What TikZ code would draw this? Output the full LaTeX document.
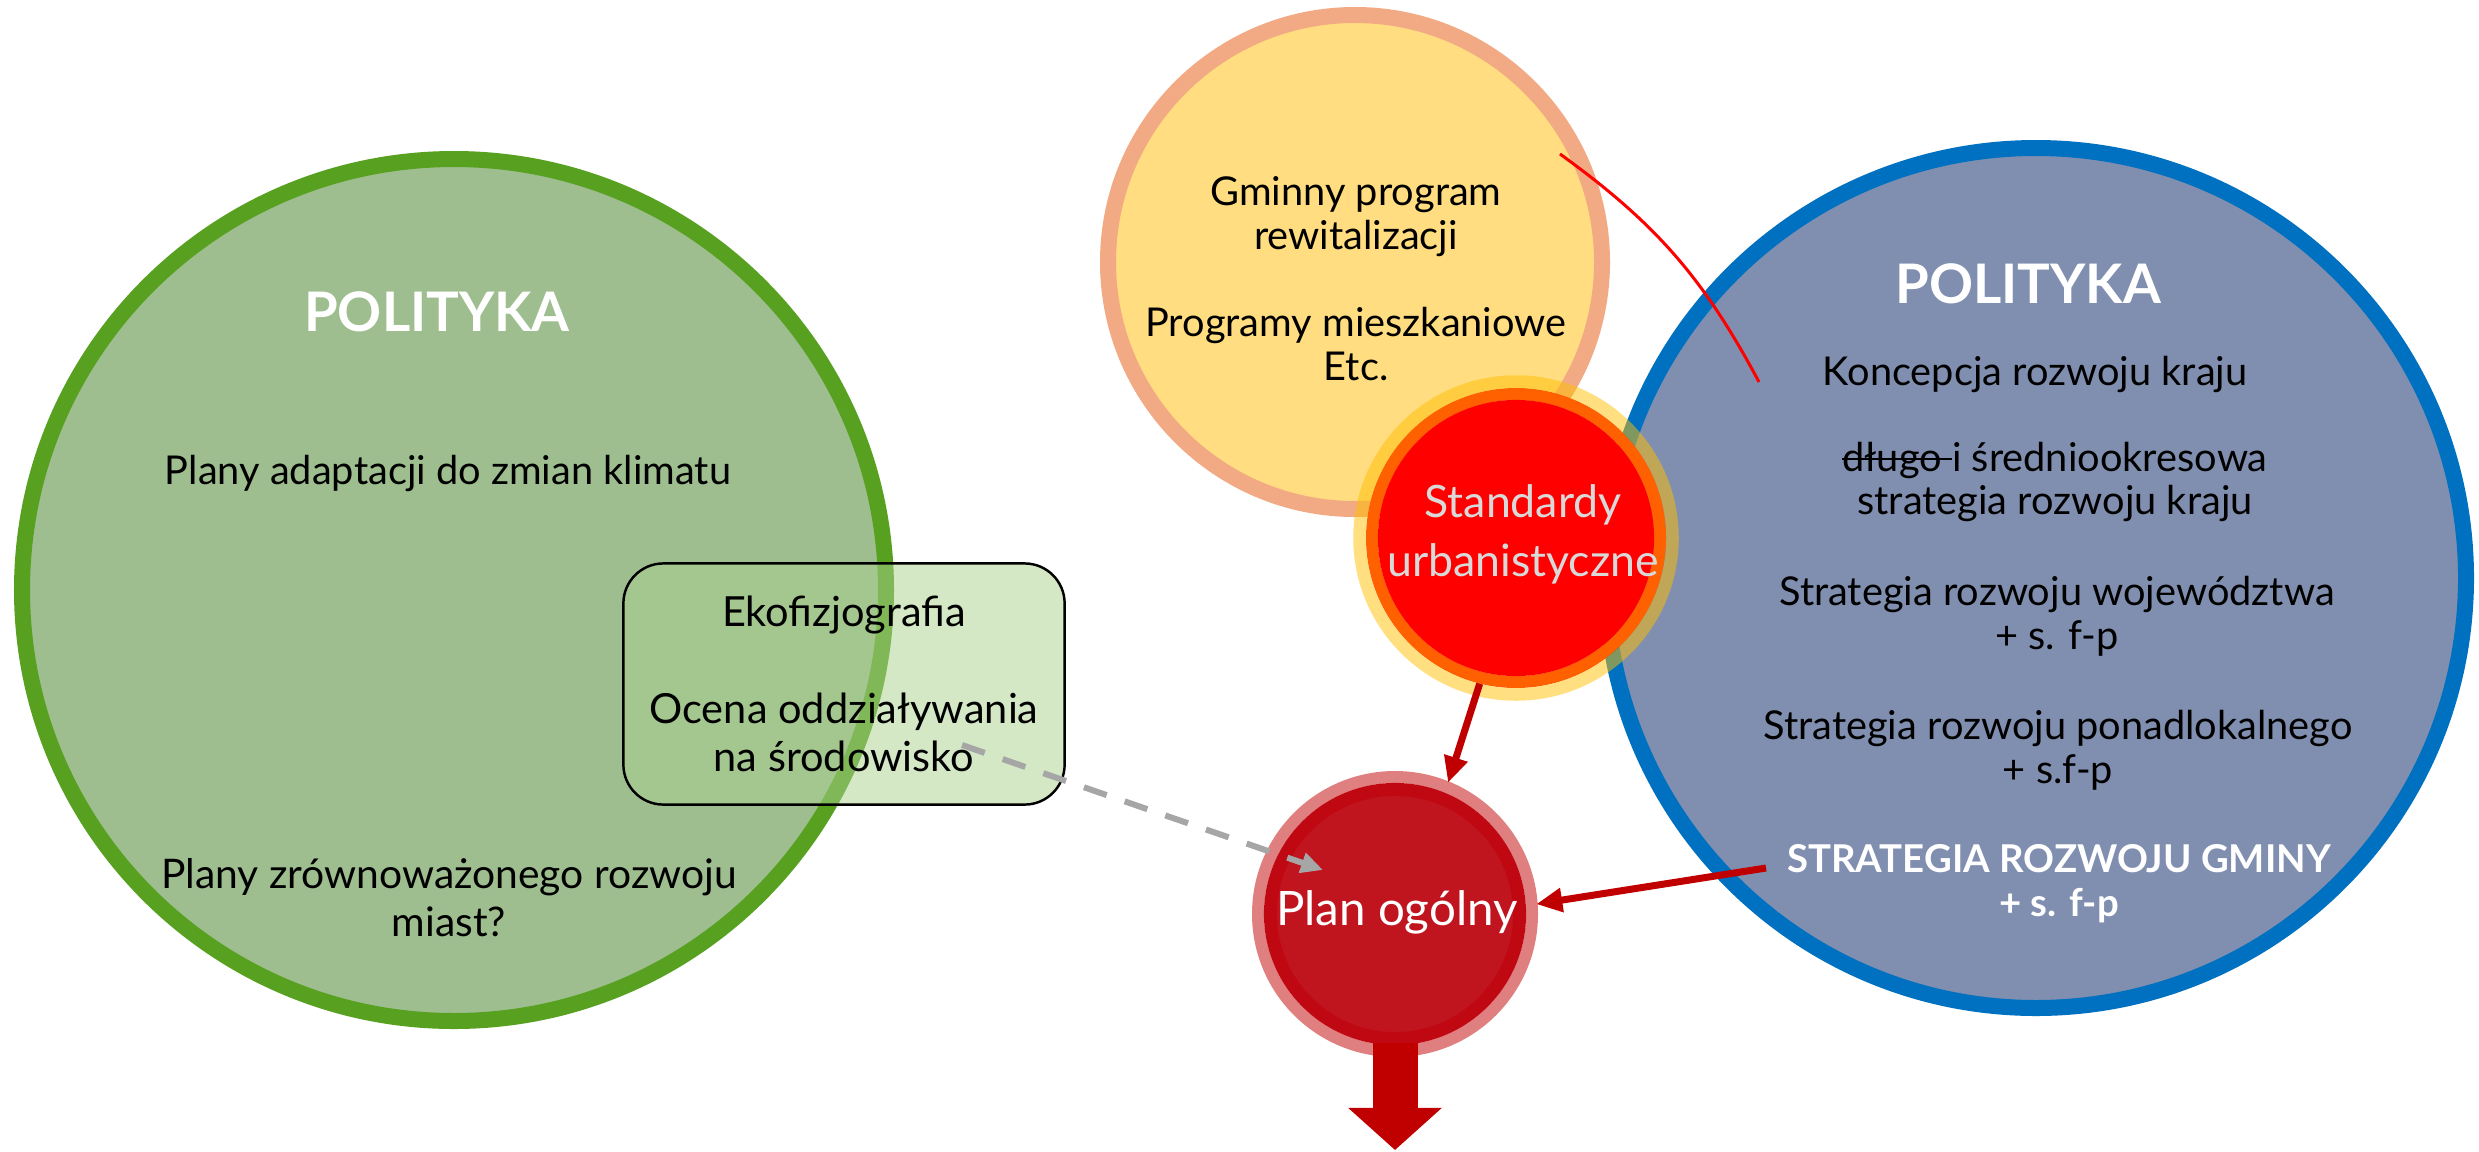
\documentclass[tikz,border=0pt]{standalone}
\usepackage{fontspec}
\setmainfont{Lato}
\usetikzlibrary{arrows.meta}

\newcommand\skreslone[1]{{\setbox0\hbox{#1}\rlap{\rule[0.28em]{\wd0}{0.06em}}\box0}}

\definecolor{zielenfill}{HTML}{9EBE8F}
\definecolor{zielenbrzeg}{HTML}{58A020}
\definecolor{ekofill}{HTML}{A9D18E}
\definecolor{zoltyfill}{HTML}{FFDD80}
\definecolor{zoltybrzeg}{HTML}{F2AA84}
\definecolor{niebbrzeg}{HTML}{0070C0}
\definecolor{niebfill}{HTML}{808FAF}
\definecolor{bursztyn}{HTML}{FFBF00}
\definecolor{pomarancz}{HTML}{FF6000}
\definecolor{bordo}{HTML}{C00000}
\definecolor{planring}{HTML}{C00812}
\definecolor{planfill}{HTML}{C0141F}
\definecolor{szary}{HTML}{A6A6A6}
\definecolor{jasnyszary}{HTML}{D9D9D9}

\begin{document}
\begin{tikzpicture}[x=0.01cm, y=0.01cm,
    txt/.style={align=center, inner sep=0pt, font=\fontsize{11.3}{12.5}\selectfont},
    tytul/.style={inner sep=0pt, text=white, font=\fontsize{15.5}{18}\selectfont\bfseries},
    strzalka/.style={draw=bordo, line width=0.07cm, -{Triangle[length=0.26cm, width=0.23cm]}}]
\useasboundingbox (0,0) rectangle (2479,-1151);

% lewe kolo: polityka
\draw[draw=zielenbrzeg, fill=zielenfill, line width=0.16cm] (454,-590) ellipse (432 and 431);
\node[tytul, anchor=base] (polL) at (437,-331) {POLITYKA};
\node[txt, anchor=base] (adapt) at (448,-484) {Plany adaptacji do zmian klimatu};
\node[txt, font=\fontsize{11.6}{13.7}\selectfont] (miasta) at (449,-898) {Plany zrównoważonego rozwoju\\miast?};

% ekofizjografia
\node[txt, font=\fontsize{11.8}{13.7}\selectfont, draw=black, line width=0.7pt, fill=ekofill, fill opacity=0.5, text opacity=1,
      rounded corners=0.4cm, minimum width=4.41cm, minimum height=2.41cm] (eko) at (844,-684)
      {Ekofizjografia\\[13.8pt]Ocena oddziaływania\\na środowisko};
\coordinate (ekofrom) at (962,-745);
\coordinate (ekoto) at (1323,-870);

% gorne kolo: programy
\draw[draw=zoltybrzeg, fill=zoltyfill, line width=0.16cm] (1355,-262) circle (247);
\node[txt, font=\fontsize{11.3}{12.5}\selectfont] (programy) at (1356,-279)
      {Gminny program\\rewitalizacji\\[12.2pt]Programy mieszkaniowe\\Etc.};

% prawe kolo: polityka
\draw[draw=niebbrzeg, fill=niebfill, line width=0.16cm] (2036,-578) circle (430);
\node[tytul, anchor=base] (polR) at (2028,-303) {POLITYKA};
\node[txt, anchor=base] (kraj) at (2035,-385) {Koncepcja rozwoju kraju};
\node[txt] (srednio) at (2055,-482) {\skreslone{długo }i średniookresowa\\strategia rozwoju kraju};
\node[txt] (woj) at (2057,-616) {Strategia rozwoju województwa\\+ s. f-p};
\node[txt] (ponad) at (2058,-750) {Strategia rozwoju ponadlokalnego\\+ s.f-p};
\node[txt, text=white, font=\fontsize{10.9}{12.5}\selectfont\bfseries] (gmina) at (2059,-884) {STRATEGIA ROZWOJU GMINY\\+ s. f-p};
\coordinate (gmfrom) at (1766,-868);

% czerwony luk
\coordinate (lukA) at (1560,-154);
\coordinate (lukB) at (1759,-382);
\draw[red, line width=0.03cm] (lukA) to[bend left=13] (lukB);

% standardy
\coordinate (stdc) at (1516,-538);
\draw[pomarancz, line width=0.12cm] (stdc) circle (144);
\draw[bursztyn, draw opacity=0.5, line width=0.125cm] (stdc) circle (156.5);
\node[circle, fill=red, minimum size=2.76cm, inner sep=0pt, outer sep=0.12cm] (std) at (stdc) {};
\node[txt, text=jasnyszary, font=\fontsize{12.7}{16.8}\selectfont] (stdtxt) at (1523,-534) {Standardy\\urbanistyczne};

% plan ogolny
\coordinate (planc) at (1395,-914);
\coordinate (planout) at (1395,-1150);
\draw[bordo, draw opacity=0.5, line width=0.12cm] (planc) circle (137);
\node[circle, draw=planring, fill=planfill, line width=0.13cm, minimum size=2.49cm, inner sep=0pt, outer sep=0.17cm] (plan) at (planc) {};
\node[txt, text=white, font=\fontsize{13.5}{16}\selectfont] (plantxt) at (1397,-912) {Plan ogólny};

% strzalki
\draw[strzalka] (std.-104) -- (plan.68);
\draw[strzalka] (gmfrom) -- (plan.4);
\draw[szary, line width=0.06cm, dash pattern=on 0.24cm off 0.19cm, -{Triangle[length=0.22cm, width=0.2cm]}] (ekofrom) -- (ekoto);
\draw[bordo, line width=0.45cm, shorten <=-0.13cm, -{Triangle[length=0.42cm, width=0.91cm]}] (plan.south) -- (planout);
\end{tikzpicture}
\end{document}
